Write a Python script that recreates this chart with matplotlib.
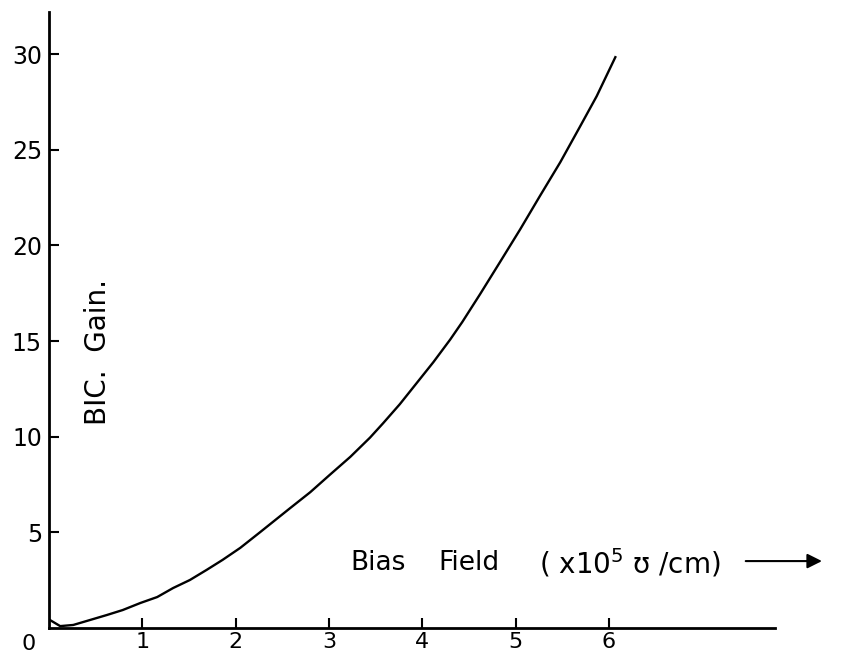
import matplotlib
matplotlib.use('Agg')
import matplotlib.pyplot as plt

plt.rcParams['font.family'] = 'DejaVu Sans'
plt.rcParams['font.size'] = 16
plt.rcParams['mathtext.default'] = 'regular'

# values
field = [0.01, 0.12, 0.26, 0.44, 0.62, 0.79, 0.98, 1.16, 1.33, 1.51, 1.69, 1.86,
         2.05, 2.26, 2.58, 2.80, 3.01, 3.23, 3.44, 3.58, 3.76, 3.94, 4.12,
         4.30, 4.43, 4.62, 4.83, 5.05, 5.26, 5.48, 5.69, 5.87, 6.07]
gain = [0.42, 0.10, 0.16, 0.42, 0.68, 0.94, 1.31, 1.62, 2.09, 2.51, 3.04, 3.56,
        4.19, 5.0, 6.25, 7.1, 8.01, 8.95, 9.95, 10.7, 11.7, 12.8, 13.9,
        15.08, 16.0, 17.45, 19.1, 20.84, 22.57, 24.35, 26.2, 27.8, 29.84]

x_ticks = [1, 2, 3, 4, 5, 6]
y_ticks = [5, 10, 15, 20, 25, 30]

fig = plt.figure(figsize=(8.52, 6.57), dpi=100)
ax = fig.add_axes([0.0575, 0.0441, 0.852, 0.9376])

ax.plot(field, gain, color='black', lw=1.7, solid_joinstyle='round')

ax.set_xlim(0, 7.78)
ax.set_ylim(0, 32.2)
ax.spines['top'].set_visible(False)
ax.spines['right'].set_visible(False)
ax.spines['left'].set_linewidth(2)
ax.spines['bottom'].set_linewidth(2)

ax.set_xticks(x_ticks)
ax.set_yticks(y_ticks)
ax.tick_params(direction='in', length=7, width=1.5)
ax.tick_params(axis='y', pad=5, labelsize=17)
ax.tick_params(axis='x', pad=3, labelsize=16)

# shared origin label
ax.text(-0.22, -0.3, '0', ha='center', va='top', fontsize=16, clip_on=False)

ax.text(0.0675, 0.448, 'BIC.  Gain.', rotation=90, transform=ax.transAxes,
        ha='center', va='center', fontsize=20)

ax.text(0.415, 0.105, 'Bias', transform=ax.transAxes,
        ha='left', va='center', fontsize=19)
ax.text(0.536, 0.105, 'Field', transform=ax.transAxes,
        ha='left', va='center', fontsize=19)
ax.text(0.675, 0.105, '( x10$^5$ ʊ /cm)', transform=ax.transAxes,
        ha='left', va='center', fontsize=20)
ax.annotate('', xy=(0.968, 0.146), xytext=(0.872, 0.146),
            xycoords='figure fraction', textcoords='figure fraction',
            arrowprops=dict(arrowstyle='-|>', color='black', lw=1.5,
                            mutation_scale=22))

plt.savefig('out.png', dpi=100)
